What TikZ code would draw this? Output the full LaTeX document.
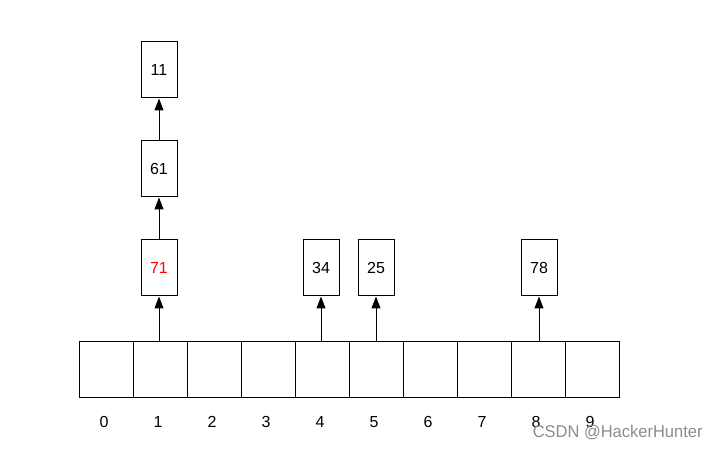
\documentclass[tikz,border=0pt]{standalone}
\usepackage{fontspec}
\setmainfont{Liberation Sans}
\usetikzlibrary{arrows.meta}
\tikzset{
    cell/.style={draw,line width=1pt,minimum width=54pt,minimum height=56pt,inner sep=0pt,anchor=center},
    entry/.style={draw,line width=1pt,minimum width=36pt,minimum height=56pt,inner sep=0pt,anchor=center,font=\fontsize{16}{18}\selectfont},
    link/.style={line width=1pt,-{Triangle[length=12pt,width=9pt]}}
}
\begin{document}
\begin{tikzpicture}[x=1pt,y=1pt]
        \useasboundingbox (0,0) rectangle (720,449);
        %% Array
        \foreach \i in {0,...,9} {
            \node[cell] (c\i) at (106+54*\i,79) {};
            \node[anchor=center,font=\fontsize{16}{18}\selectfont] (l\i) at (104+54*\i,27) {\i};
        }
        %% Chain at 1
        \node[entry,text=red] (e71) at (159,181) {71};
        \node[entry] (e61) at (159,280) {61};
        \node[entry] (e11) at (159,379) {11};
        %% Single entries
        \node[entry] (e34) at (321,181) {34};
        \node[entry] (e25) at (376,181) {25};
        \node[entry] (e78) at (539,181) {78};
        %% Links
        \draw[link] (c1.north-|e71) -- (e71.south);
        \draw[link] (e71.north) -- (e61.south);
        \draw[link] (e61.north) -- (e11.south);
        \draw[link] (c4.north-|e34) -- (e34.south);
        \draw[link] (c5.north-|e25) -- (e25.south);
        \draw[link] (c8.north-|e78) -- (e78.south);
        %% Watermark
        \node[anchor=east,text=black!45,font=\fontsize{17}{19}\selectfont,xscale=0.97] (mark) at (706,16) {CSDN @HackerHunter};
    \end{tikzpicture}
\end{document}
